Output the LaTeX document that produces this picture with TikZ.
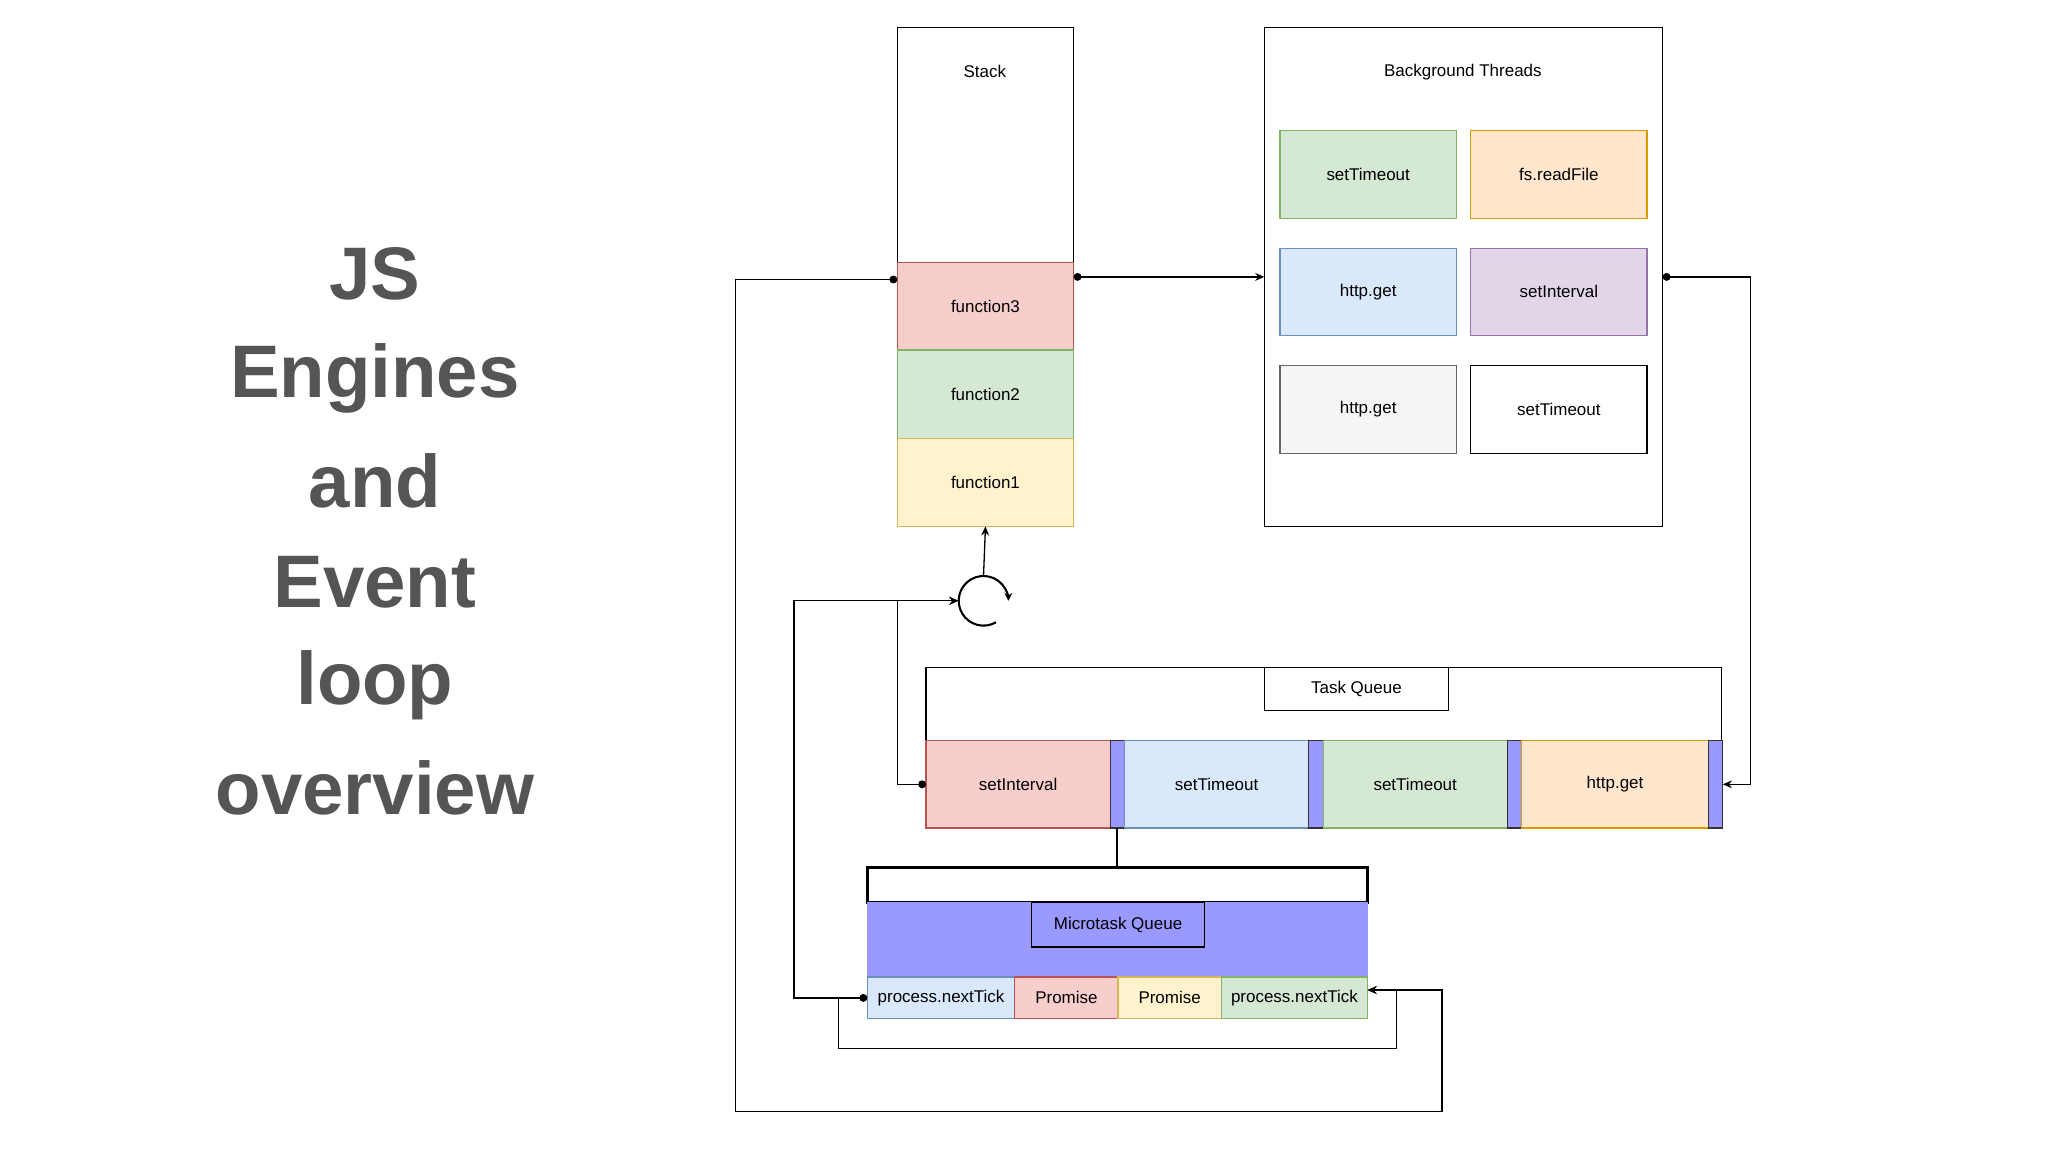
\documentclass[tikz,border=0pt]{standalone}
\usepackage{fontspec}
\setmainfont{Liberation Sans}
\usetikzlibrary{arrows.meta,calc}
\definecolor{pinkF}{HTML}{F8CECC}\definecolor{pinkD}{HTML}{B85450}
\definecolor{grnF}{HTML}{D5E8D4}\definecolor{grnD}{HTML}{82B366}
\definecolor{yelF}{HTML}{FFF2CC}\definecolor{yelD}{HTML}{D6B656}
\definecolor{bluF}{HTML}{DAE8FC}\definecolor{bluD}{HTML}{6C8EBF}
\definecolor{orF}{HTML}{FFE6CC}\definecolor{orD}{HTML}{D79B00}
\definecolor{purF}{HTML}{E1D5E7}\definecolor{purD}{HTML}{9673A6}
\definecolor{gryF}{HTML}{F5F5F5}\definecolor{gryD}{HTML}{666666}
\definecolor{mark}{HTML}{9999FF}\definecolor{title}{HTML}{555555}
\begin{document}
\begin{tikzpicture}[x=1pt,y=-1pt,
  box/.style={draw,inner sep=0pt,outer sep=0pt,anchor=north west,font=\fontsize{13}{15}\selectfont,line width=0.9pt},
  b/.style args={#1/#2/#3/#4}{box,minimum width=#3,minimum height=#4},
  pk/.style={fill=pinkF,draw=pinkD},gr/.style={fill=grnF,draw=grnD},yl/.style={fill=yelF,draw=yelD},
  bl/.style={fill=bluF,draw=bluD},orr/.style={fill=orF,draw=orD},pu/.style={fill=purF,draw=purD},gy/.style={fill=gryF,draw=gryD},
  mk/.style={fill=mark,draw=black!80},
  conn/.style={line width=1pt,-{Stealth[length=7pt,width=6pt]}},
  dconn/.style={line width=1pt,{Circle[length=6pt]}-{Stealth[length=7pt,width=6pt]}},
  ttl/.style={font=\fontsize{57}{60}\bfseries\selectfont,text=title}]
\useasboundingbox (0,0) rectangle (1568,882);
% title
\foreach \t/\y [count=\i] in {JS/210,Engines/290,and/368,Event/446,loop/525,overview/603}
  \node[ttl] (t\i) at (287,\y) {\t};
% stack
\node[box,minimum width=135,minimum height=382] (stack) at (687,21) {};
\node[font=\fontsize{13}{15}\selectfont] (stl) at (754,55) {Stack};
\node[box,pk,minimum width=135,minimum height=67] (f3) at (687,201) {function3};
\node[box,gr,minimum width=135,minimum height=68] (f2) at (687,268) {function2};
\node[box,yl,minimum width=135,minimum height=67] (f1) at (687,336) {function1};
% background threads
\node[box,minimum width=305,minimum height=382] (bg) at (968,21) {};
\node[font=\fontsize{13}{15}\selectfont] (bgl) at (1120,55) {Background Threads};
\node[box,gr,minimum width=135,minimum height=67] (c1) at (980,100) {setTimeout};
\node[box,orr,minimum width=135,minimum height=67] (c2) at (1126,100) {fs.readFile};
\node[box,bl,minimum width=135,minimum height=67] (c3) at (980,190) {http.get};
\node[box,pu,minimum width=135,minimum height=67] (c4) at (1126,190) {setInterval};
\node[box,gy,minimum width=135,minimum height=67] (c5) at (980,280) {http.get};
\node[box,minimum width=135,minimum height=67] (c6) at (1126,280) {setTimeout};
% task queue
\draw[line width=1pt] (709,567) -- (709,511) -- (1318,511) -- (1318,567);
\node[box,minimum width=141,minimum height=33] (tql) at (968,511) {Task Queue};
\node[box,pk,minimum width=141,minimum height=67] (q1) at (709,567) {setInterval};
\node[box,mk,minimum width=11,minimum height=67] (m1) at (850,567) {};
\node[box,bl,minimum width=141,minimum height=67] (q2) at (861,567) {setTimeout};
\node[box,mk,minimum width=11,minimum height=67] (m2) at (1002,567) {};
\node[box,gr,minimum width=141,minimum height=67] (q3) at (1013,567) {setTimeout};
\node[box,mk,minimum width=11,minimum height=67] (m3) at (1154,567) {};
\node[box,orr,minimum width=143,minimum height=67] (q4) at (1165,567) {http.get};
\node[box,mk,minimum width=11,minimum height=67] (m4) at (1308,567) {};
% microtask queue
\node[box,line width=2pt,minimum width=383,minimum height=27] (mt) at (664,664) {};
\node[box,fill=mark,draw=mark,minimum width=383,minimum height=57] (mp) at (664,691) {};
\node[box,minimum width=132,minimum height=34] (mtl) at (790,691) {Microtask Queue};
\node[box,bl,minimum width=113,minimum height=32] (p1) at (664,748) {process.nextTick};
\node[box,pk,minimum width=79,minimum height=32] (p2) at (777,748) {Promise};
\node[box,yl,minimum width=79,minimum height=32] (p3) at (856,748) {Promise};
\node[box,gr,minimum width=112,minimum height=32] (p4) at (935,748) {process.nextTick};
\draw[line width=1.5pt] (m1.south) -- (m1.south |- mt.north);
% event loop
\node[circle,minimum size=38,inner sep=0pt] (loop) at (753,460) {};
\draw[line width=1.6pt,-{Stealth[length=6pt,width=6pt]}] ($(loop.center)+(60:19)$) arc[start angle=60,end angle=360,radius=19];
\draw[conn] (loop.north) -- (f1.south);
% connectors
\draw[dconn] ($(f3.north east)+(0,11)$) -- ($(f3.north east)+(146,11)$);
\draw[dconn] ($(bg.north east)+(0,191)$) -- ($(bg.north east)+(67,191)$) |- (m4.east);
\draw[dconn] (p1.west) -- ++(-56,0) |- (loop.west);
\draw[dconn] (q1.west) -- ++(-22,0) |- (loop.west);
\draw[conn] ($(p1.west)+(-22,0)$) -- ++(0,39) -| ($(p4.east)+(22,0)$) |- ($(p4.east)+(0,-6)$);
\draw[dconn] ($(f3.north west)+(0,13)$) -- ++(-124,0) -- ++(0,637) -| ($(p4.east)+(57,0)$) |- ($(p4.east)+(0,-6)$);
\end{tikzpicture}
\end{document}
